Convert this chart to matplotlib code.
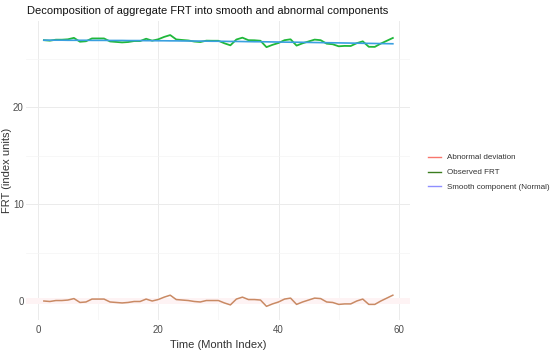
import numpy as np
import matplotlib
matplotlib.use("Agg")
import matplotlib.pyplot as plt
from matplotlib.lines import Line2D

plt.rcParams["font.family"] = ["Liberation Sans", "DejaVu Sans"]

months = list(range(1, 60))
abnormal = [0.0, -0.05, 0.05, 0.05, 0.1, 0.25, -0.15, -0.1, 0.2, 0.2,
            0.2, -0.1, -0.15, -0.2, -0.15, -0.05, -0.05, 0.2, 0.0, 0.15,
            0.4, 0.6, 0.15, 0.1, 0.05, -0.05, -0.1, 0.05, 0.05, 0.05,
            -0.2, -0.4, 0.2, 0.4, 0.15, 0.15, 0.1, -0.55, -0.3, -0.1,
            0.2, 0.3, -0.35, -0.1, 0.1, 0.3, 0.25, -0.1, -0.15, -0.35,
            -0.3, -0.3, 0.0, 0.2, -0.35, -0.35, 0.0, 0.3, 0.6]
smooth = [26.92, 26.92, 26.92, 26.92, 26.91, 26.91, 26.91, 26.91, 26.90, 26.90,
          26.90, 26.89, 26.89, 26.89, 26.88, 26.88, 26.88, 26.87, 26.87, 26.86,
          26.86, 26.85, 26.85, 26.84, 26.84, 26.83, 26.83, 26.82, 26.81, 26.81,
          26.80, 26.79, 26.79, 26.78, 26.77, 26.76, 26.76, 26.75, 26.74, 26.73,
          26.72, 26.71, 26.71, 26.70, 26.69, 26.68, 26.67, 26.66, 26.65, 26.64,
          26.63, 26.62, 26.61, 26.60, 26.59, 26.58, 26.57, 26.56, 26.55]
observed = [s + a for s, a in zip(smooth, abnormal)]

fig = plt.figure(figsize=(5.5, 3.5), dpi=100)
ax = fig.add_axes([0.048, 0.086, 0.698, 0.854])

ax.axhspan(-0.3, 0.3, color="#fef3f4", lw=0, zorder=1)
ax.plot(months, abnormal, color="#c98a64", lw=1.1, zorder=3)
ax.plot(months, observed, color="#1fb83a", lw=1.3, zorder=3)
ax.plot(months, smooth, color="#3aa0e0", lw=1.2, zorder=4)

ax.set_xlim(-1.9, 61.9)
ax.set_ylim(-1.95, 28.9)
ax.set_xticks([0, 20, 40, 60])
ax.set_yticks([0, 10, 20])
ax.set_xticks([10, 30, 50], minor=True)
ax.set_yticks([5, 15, 25], minor=True)
ax.grid(True, which="major", color="#ebebeb", lw=0.7)
ax.grid(True, which="minor", color="#f4f4f4", lw=0.5)
ax.set_axisbelow(True)
for s in ax.spines.values():
    s.set_visible(False)
ax.tick_params(which="both", length=0, labelsize=7, labelcolor="#4d4d4d")
ax.tick_params(axis="y", pad=2)
ax.tick_params(axis="x", pad=4)

ax.set_xlabel("Time (Month Index)", fontsize=8, color="#333333", labelpad=3)
ax.set_ylabel("FRT (index units)", fontsize=8, color="#333333")
ax.yaxis.set_label_coords(-0.038, 0.5)
fig.text(0.049, 0.968, "Decomposition of aggregate FRT into smooth and abnormal components",
         fontsize=8, color="#111111", va="center", ha="left")

handles = [Line2D([], [], color="#f8766d", lw=1),
           Line2D([], [], color="#3b7d1f", lw=1),
           Line2D([], [], color="#8f8fff", lw=1)]
labels = ["Abnormal deviation", "Observed FRT", "Smooth component (Normal)"]
fig.legend(handles, labels, loc="center left", bbox_to_anchor=(0.765, 0.507),
           frameon=False, fontsize=5.8, handlelength=1.6, labelspacing=0.9,
           handletextpad=0.8, labelcolor="#333333")

fig.savefig("out.png", dpi=100)
